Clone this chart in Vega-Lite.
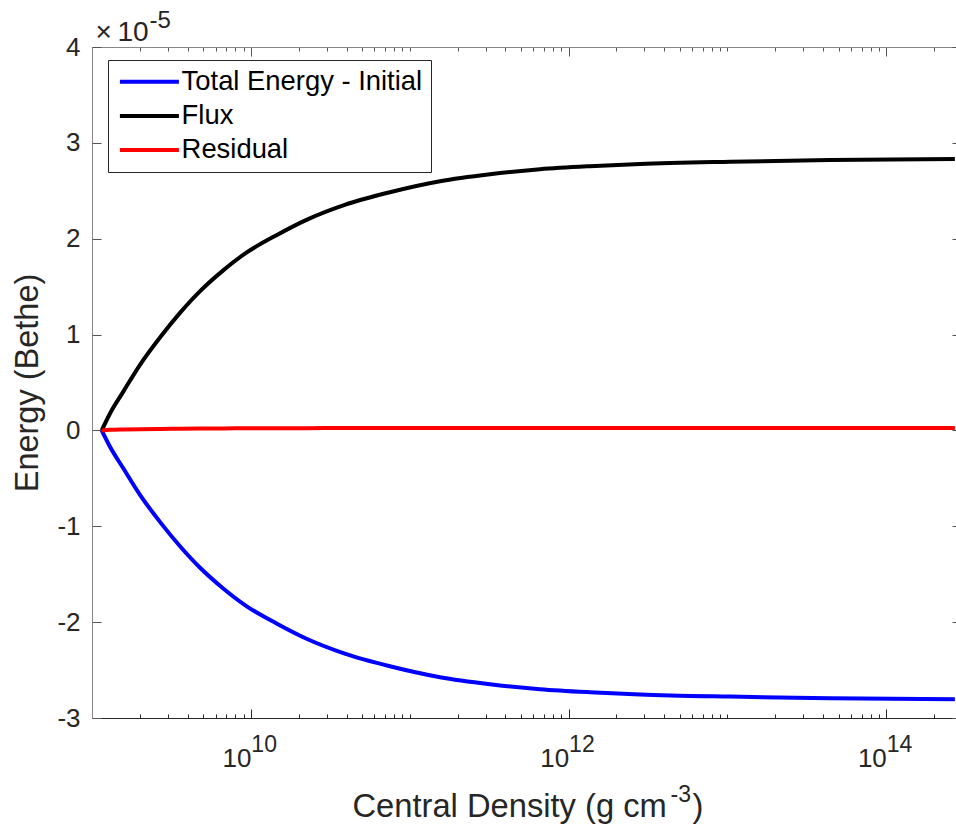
{
  "$schema": "https://vega.github.io/schema/vega-lite/v6.json",
  "autosize": {"type": "none"},
  "width": 864,
  "height": 671,
  "padding": {"left": 92, "top": 47, "right": 0, "bottom": 111},
  "background": "white",
  "config": {
    "view": {"stroke": null},
    "font": "Liberation Sans",
    "axis": {
      "labelFont": "Liberation Sans",
      "titleFont": "Liberation Sans",
      "labelColor": "#262626",
      "titleColor": "#262626",
      "titleFontWeight": "normal",
      "grid": false,
      "labelFlush": false,
      "labelOverlap": false
    }
  },
  "data": {
    "values": [
      {"rho": 1.151e9, "E": 0.0, "series": "Total Energy - Initial"},
      {"rho": 1.298e9, "E": -0.171e-5, "series": "Total Energy - Initial"},
      {"rho": 1.574e9, "E": -0.395e-5, "series": "Total Energy - Initial"},
      {"rho": 2.005e9, "E": -0.672e-5, "series": "Total Energy - Initial"},
      {"rho": 2.74e9, "E": -0.975e-5, "series": "Total Energy - Initial"},
      {"rho": 3.58e9, "E": -1.208e-5, "series": "Total Energy - Initial"},
      {"rho": 4.79e9, "E": -1.433e-5, "series": "Total Energy - Initial"},
      {"rho": 6.70e9, "E": -1.649e-5, "series": "Total Energy - Initial"},
      {"rho": 9.42e9, "E": -1.835e-5, "series": "Total Energy - Initial"},
      {"rho": 1.45e10, "E": -2.014e-5, "series": "Total Energy - Initial"},
      {"rho": 2.24e10, "E": -2.173e-5, "series": "Total Energy - Initial"},
      {"rho": 3.9e10, "E": -2.328e-5, "series": "Total Energy - Initial"},
      {"rho": 7.5e10, "E": -2.460e-5, "series": "Total Energy - Initial"},
      {"rho": 1.55e11, "E": -2.574e-5, "series": "Total Energy - Initial"},
      {"rho": 3.2e11, "E": -2.647e-5, "series": "Total Energy - Initial"},
      {"rho": 6.6e11, "E": -2.699e-5, "series": "Total Energy - Initial"},
      {"rho": 1.36e12, "E": -2.731e-5, "series": "Total Energy - Initial"},
      {"rho": 2.81e12, "E": -2.754e-5, "series": "Total Energy - Initial"},
      {"rho": 1.04e13, "E": -2.777e-5, "series": "Total Energy - Initial"},
      {"rho": 4.41e13, "E": -2.794e-5, "series": "Total Energy - Initial"},
      {"rho": 2.7e14, "E": -2.805e-5, "series": "Total Energy - Initial"},

      {"rho": 1.151e9, "E": 0.0, "series": "Flux"},
      {"rho": 1.298e9, "E": 0.177e-5, "series": "Flux"},
      {"rho": 1.574e9, "E": 0.405e-5, "series": "Flux"},
      {"rho": 2.005e9, "E": 0.685e-5, "series": "Flux"},
      {"rho": 2.74e9, "E": 0.991e-5, "series": "Flux"},
      {"rho": 3.58e9, "E": 1.226e-5, "series": "Flux"},
      {"rho": 4.79e9, "E": 1.453e-5, "series": "Flux"},
      {"rho": 6.70e9, "E": 1.670e-5, "series": "Flux"},
      {"rho": 9.42e9, "E": 1.857e-5, "series": "Flux"},
      {"rho": 1.45e10, "E": 2.037e-5, "series": "Flux"},
      {"rho": 2.24e10, "E": 2.197e-5, "series": "Flux"},
      {"rho": 3.9e10, "E": 2.353e-5, "series": "Flux"},
      {"rho": 7.5e10, "E": 2.485e-5, "series": "Flux"},
      {"rho": 1.55e11, "E": 2.600e-5, "series": "Flux"},
      {"rho": 3.2e11, "E": 2.673e-5, "series": "Flux"},
      {"rho": 6.6e11, "E": 2.725e-5, "series": "Flux"},
      {"rho": 1.36e12, "E": 2.757e-5, "series": "Flux"},
      {"rho": 2.81e12, "E": 2.780e-5, "series": "Flux"},
      {"rho": 1.04e13, "E": 2.803e-5, "series": "Flux"},
      {"rho": 4.41e13, "E": 2.820e-5, "series": "Flux"},
      {"rho": 2.7e14, "E": 2.831e-5, "series": "Flux"},

      {"rho": 1.151e9, "E": 0.0, "series": "Residual"},
      {"rho": 1.298e9, "E": 0.006e-5, "series": "Residual"},
      {"rho": 1.574e9, "E": 0.010e-5, "series": "Residual"},
      {"rho": 2.005e9, "E": 0.013e-5, "series": "Residual"},
      {"rho": 2.74e9, "E": 0.016e-5, "series": "Residual"},
      {"rho": 3.58e9, "E": 0.018e-5, "series": "Residual"},
      {"rho": 4.79e9, "E": 0.020e-5, "series": "Residual"},
      {"rho": 6.70e9, "E": 0.021e-5, "series": "Residual"},
      {"rho": 9.42e9, "E": 0.022e-5, "series": "Residual"},
      {"rho": 1.45e10, "E": 0.023e-5, "series": "Residual"},
      {"rho": 2.24e10, "E": 0.024e-5, "series": "Residual"},
      {"rho": 3.9e10, "E": 0.025e-5, "series": "Residual"},
      {"rho": 7.5e10, "E": 0.025e-5, "series": "Residual"},
      {"rho": 1.55e11, "E": 0.026e-5, "series": "Residual"},
      {"rho": 3.2e11, "E": 0.026e-5, "series": "Residual"},
      {"rho": 6.6e11, "E": 0.026e-5, "series": "Residual"},
      {"rho": 1.36e12, "E": 0.026e-5, "series": "Residual"},
      {"rho": 2.81e12, "E": 0.026e-5, "series": "Residual"},
      {"rho": 1.04e13, "E": 0.026e-5, "series": "Residual"},
      {"rho": 4.41e13, "E": 0.026e-5, "series": "Residual"},
      {"rho": 2.7e14, "E": 0.026e-5, "series": "Residual"}
    ]
  },
  "resolve": {"axis": {"x": "independent", "y": "independent"}},
  "layer": [
    {
      "mark": {"type": "line", "strokeWidth": 4, "interpolate": "monotone"},
      "encoding": {
        "x": {
          "field": "rho", "type": "quantitative",
          "scale": {"type": "log", "domain": [1e9, 2.745e14], "nice": false},
          "axis": {
            "orient": "bottom",
            "values": [1e10, 1e12, 1e14],
            "labelExpr": "'10'",
            "labelAlign": "right",
            "labelBaseline": "alphabetic",
            "labelFontSize": 26,
            "labelPadding": 48,
            "ticks": false,
            "domainColor": "#262626",
            "title": "Central Density (g cm",
            "titleFontSize": 32.7,
            "titleAlign": "left",
            "titleBaseline": "alphabetic",
            "titleAngle": 0,
            "titleX": 260,
            "titleY": 98.7
          }
        },
        "y": {
          "field": "E", "type": "quantitative",
          "scale": {"domain": [-3e-5, 4e-5], "nice": false, "zero": false},
          "axis": {
            "orient": "left",
            "values": [-3e-5, -2e-5, -1e-5, 0, 1e-5, 2e-5, 3e-5, 4e-5],
            "labelExpr": "'' + round(datum.value * 1e5)",
            "labelFontSize": 26,
            "labelPadding": 12,
            "ticks": false,
            "domainColor": "#888888",
            "title": "Energy (Bethe)",
            "titleFontSize": 32.5,
            "titleAngle": 270,
            "titleAlign": "center",
            "titleBaseline": "alphabetic",
            "titleX": -54.5,
            "titleY": 335.5
          }
        },
        "color": {
          "field": "series", "type": "nominal",
          "scale": {
            "domain": ["Total Energy - Initial", "Flux", "Residual"],
            "range": ["#0000ff", "#000000", "#ff0000"]
          },
          "legend": {
            "title": null,
            "orient": "none",
            "legendX": 16,
            "legendY": 13,
            "direction": "vertical",
            "symbolType": "M-3,0H3",
            "symbolSize": 386.9,
            "symbolOffset": 19.7,
            "symbolStrokeWidth": 4,
            "labelFont": "Liberation Sans",
            "labelFontSize": 27.4,
            "labelColor": "#000000",
            "labelOffset": 18.5,
            "labelLimit": 0,
            "padding": 8,
            "rowPadding": 5.2,
            "strokeColor": "#262626",
            "fillColor": "#ffffff"
          }
        }
      }
    },
    {
      "mark": {"type": "point", "opacity": 0},
      "encoding": {
        "x": {
          "field": "rho", "type": "quantitative",
          "scale": {"type": "log", "domain": [1e9, 2.745e14], "nice": false},
          "axis": {
            "orient": "bottom",
            "offset": -9,
            "values": [1e10, 1e12, 1e14],
            "labels": false,
            "domain": false,
            "tickSize": 9,
            "tickColor": "#262626",
            "title": null
          }
        },
        "y": {
          "field": "E", "type": "quantitative",
          "scale": {"domain": [-3e-5, 4e-5], "nice": false, "zero": false},
          "axis": {
            "orient": "left",
            "offset": -9,
            "values": [-3e-5, -2e-5, -1e-5, 0, 1e-5, 2e-5, 3e-5, 4e-5],
            "labels": false,
            "domain": false,
            "tickSize": 9,
            "tickColor": "#555555",
            "title": null
          }
        }
      }
    },
    {
      "mark": {"type": "point", "opacity": 0},
      "encoding": {
        "x": {
          "field": "rho", "type": "quantitative",
          "scale": {"type": "log", "domain": [1e9, 2.745e14], "nice": false},
          "axis": {
            "orient": "bottom",
            "offset": -4,
            "values": [2e9, 3e9, 4e9, 5e9, 6e9, 7e9, 8e9, 9e9, 2e10, 3e10, 4e10, 5e10, 6e10, 7e10, 8e10, 9e10, 1e11, 2e11, 3e11, 4e11, 5e11, 6e11, 7e11, 8e11, 9e11, 2e12, 3e12, 4e12, 5e12, 6e12, 7e12, 8e12, 9e12, 1e13, 2e13, 3e13, 4e13, 5e13, 6e13, 7e13, 8e13, 9e13, 2e14],
            "labels": false,
            "domain": false,
            "tickSize": 4,
            "tickColor": "#262626",
            "title": null
          }
        },
        "y": {
          "field": "E", "type": "quantitative",
          "scale": {"domain": [-3e-5, 4e-5], "nice": false, "zero": false},
          "axis": {
            "orient": "right",
            "offset": -4,
            "values": [-3e-5, -2e-5, -1e-5, 0, 1e-5, 2e-5, 3e-5, 4e-5],
            "labels": false,
            "domain": false,
            "tickSize": 4,
            "tickColor": "#555555",
            "title": null
          }
        }
      }
    },
    {
      "mark": {"type": "point", "opacity": 0},
      "encoding": {
        "x": {
          "field": "rho", "type": "quantitative",
          "scale": {"type": "log", "domain": [1e9, 2.745e14], "nice": false},
          "axis": {
            "orient": "top",
            "offset": -9,
            "values": [1e10, 1e12, 1e14],
            "labels": false,
            "domain": false,
            "tickSize": 9,
            "tickColor": "#555555",
            "title": null
          }
        },
        "y": {
          "field": "E", "type": "quantitative",
          "scale": {"domain": [-3e-5, 4e-5], "nice": false, "zero": false},
          "axis": {
            "orient": "left",
            "labels": false,
            "ticks": false,
            "domain": false,
            "title": "×\u200910",
            "titleFontSize": 28,
            "titleAngle": 0,
            "titleAlign": "left",
            "titleBaseline": "alphabetic",
            "titleX": 3,
            "titleY": -7
          }
        }
      }
    },
    {
      "mark": {"type": "point", "opacity": 0},
      "encoding": {
        "x": {
          "field": "rho", "type": "quantitative",
          "scale": {"type": "log", "domain": [1e9, 2.745e14], "nice": false},
          "axis": {
            "orient": "top",
            "offset": -4,
            "values": [2e9, 3e9, 4e9, 5e9, 6e9, 7e9, 8e9, 9e9, 2e10, 3e10, 4e10, 5e10, 6e10, 7e10, 8e10, 9e10, 1e11, 2e11, 3e11, 4e11, 5e11, 6e11, 7e11, 8e11, 9e11, 2e12, 3e12, 4e12, 5e12, 6e12, 7e12, 8e12, 9e12, 1e13, 2e13, 3e13, 4e13, 5e13, 6e13, 7e13, 8e13, 9e13, 2e14],
            "labels": false,
            "domain": false,
            "tickSize": 4,
            "tickColor": "#555555",
            "title": null
          }
        },
        "y": {
          "field": "E", "type": "quantitative",
          "scale": {"domain": [-3e-5, 4e-5], "nice": false, "zero": false},
          "axis": {
            "orient": "left",
            "labels": false,
            "ticks": false,
            "domain": false,
            "title": "-5",
            "titleFontSize": 24,
            "titleAngle": 0,
            "titleAlign": "left",
            "titleBaseline": "alphabetic",
            "titleX": 57,
            "titleY": -20
          }
        }
      }
    },
    {
      "mark": {"type": "point", "opacity": 0},
      "encoding": {
        "x": {
          "field": "rho", "type": "quantitative",
          "scale": {"type": "log", "domain": [1e9, 2.745e14], "nice": false},
          "axis": {
            "orient": "top",
            "labels": false,
            "ticks": false,
            "domain": true,
            "domainColor": "#888888",
            "title": null
          }
        },
        "y": {
          "field": "E", "type": "quantitative",
          "scale": {"domain": [-3e-5, 4e-5], "nice": false, "zero": false},
          "axis": {
            "orient": "left",
            "labels": false,
            "ticks": false,
            "domain": false,
            "title": ")",
            "titleFontSize": 32.7,
            "titleAngle": 0,
            "titleAlign": "left",
            "titleBaseline": "alphabetic",
            "titleX": 600,
            "titleY": 769.7
          }
        }
      }
    },
    {
      "mark": {"type": "point", "opacity": 0},
      "encoding": {
        "x": {
          "field": "rho", "type": "quantitative",
          "scale": {"type": "log", "domain": [1e9, 2.745e14], "nice": false},
          "axis": {
            "orient": "bottom",
            "values": [1e10, 1e12, 1e14],
            "labelExpr": "'' + round(log(datum.value) / LN10)",
            "labelAlign": "left",
            "labelBaseline": "alphabetic",
            "labelFontSize": 23,
            "labelDx": 2.5,
            "labelPadding": 33.7,
            "ticks": false,
            "domain": false,
            "title": "-3",
            "titleFontSize": 23,
            "titleAngle": 0,
            "titleAlign": "left",
            "titleBaseline": "alphabetic",
            "titleX": 578,
            "titleY": 83.7
          }
        },
        "y": {
          "field": "E", "type": "quantitative",
          "scale": {"domain": [-3e-5, 4e-5], "nice": false, "zero": false},
          "axis": null
        }
      }
    }
  ]
}
